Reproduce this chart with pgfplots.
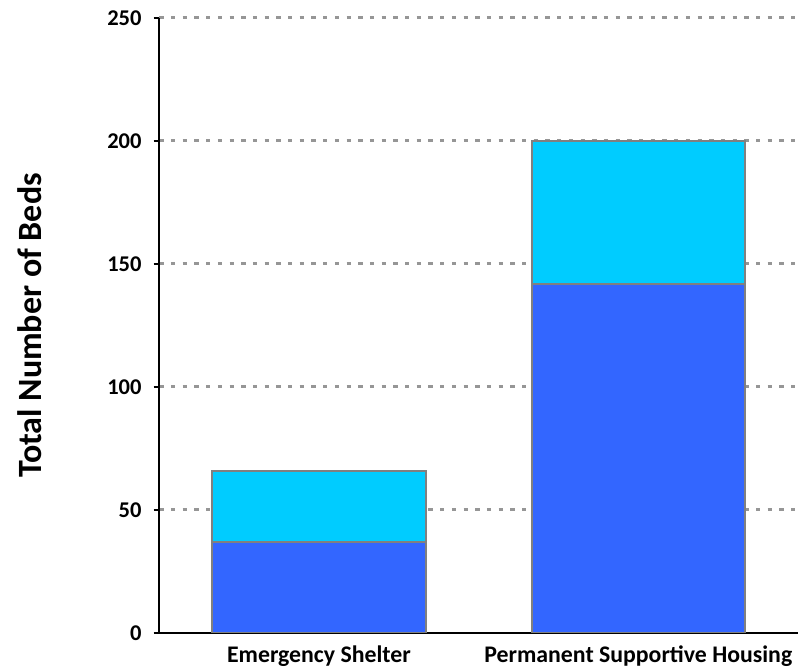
\documentclass[border=0pt]{standalone}
\usepackage{pgfplots}
\pgfplotsset{compat=1.18}
\usepackage{fontspec}
\setmainfont{Carlito}
\definecolor{barblue}{HTML}{3366FF}
\definecolor{barcyan}{HTML}{00CCFF}
\definecolor{edgegray}{HTML}{808080}
\definecolor{gridgray}{HTML}{969696}
\pgfplotsset{layers/mylayers/.define layer set={axis background,axis grid,pre main,main,axis ticks,axis lines,axis tick labels,axis descriptions,axis foreground}{}}
\begin{document}
\begin{tikzpicture}
\begin{axis}[
 set layers=mylayers,
 scale only axis, width=638.7pt, height=615pt,
 xmin=-0.5, xmax=1.5, ymin=0, ymax=250,
 ybar stacked, bar width=0.668,
 xtick={0,1}, xticklabels={Emergency Shelter, Permanent Supportive Housing},
 ytick={50,100,...,250},
 extra y ticks={0}, extra y tick style={grid=none},
 axis x line*=bottom, axis y line*=left,
 axis line style={-, line width=2.3pt, black},
 major x tick style=transparent,
 tick style={line width=2pt, black},
 tick align=outside, major tick length=5.7pt,
 ymajorgrids, grid style={gridgray, line width=3pt, dash pattern=on 4.3pt off 7.4pt},
 /pgf/number format/assume math mode=true,
 tick label style={font=\bfseries\fontsize{22.5}{26}\selectfont, inner sep=0pt},
 yticklabel style={anchor=east, xshift=-11.9pt},
 xticklabel style={anchor=base, yshift=-24.3pt, font=\bfseries\fontsize{23.8}{28}\selectfont},
 ylabel={Total Number of Beds},
 ylabel style={at={(axis description cs:0,0.5)}, anchor=center, yshift=129.3pt, font=\bfseries\fontsize{34}{40}\selectfont, inner sep=0pt},
]
\addplot[fill=barblue, draw=edgegray, line width=1.8pt] coordinates {(0,37) (1,142)};
\addplot[fill=barcyan, draw=edgegray, line width=1.8pt] coordinates {(0,29) (1,58)};
\end{axis}
\pgfresetboundingbox
\path[use as bounding box] ([xshift=-159.3pt,yshift=-36pt]current axis.south west) rectangle ([yshift=18pt]current axis.north east);
\end{tikzpicture}
\end{document}
